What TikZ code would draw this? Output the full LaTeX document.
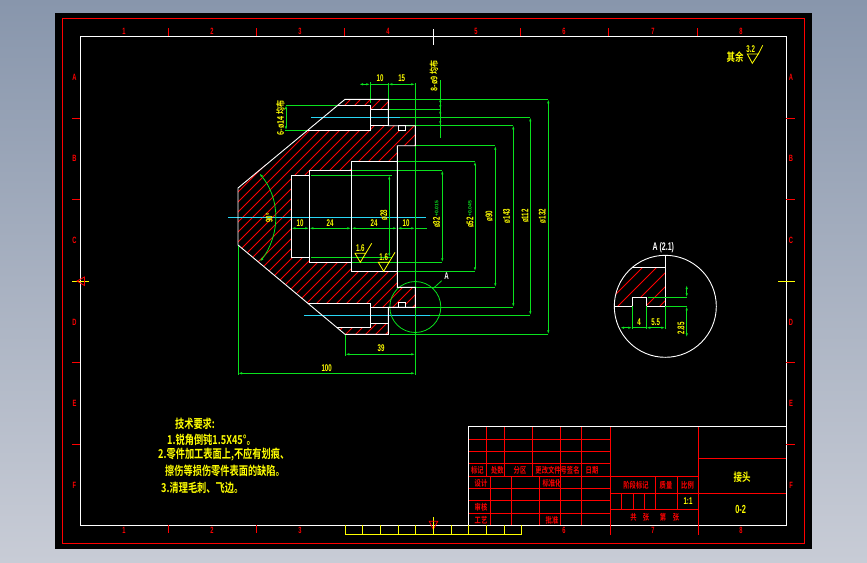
\documentclass[tikz,border=0pt]{standalone}
\usepackage{fontspec}
\usepackage{graphicx}
\usetikzlibrary{arrows.meta}
\setmainfont{Liberation Sans}
\newfontfamily\cjk{Noto Sans CJK SC}[BoldFont={Noto Sans CJK SC Bold}]
\newcommand{\dimtxt}[1]{\scalebox{.82}[1.3]{#1}}
\newcommand{\cadtxt}[1]{\scalebox{1}[1.33]{#1}}
\definecolor{cadgreen}{RGB}{10,225,30}
\definecolor{cadcyan}{RGB}{40,215,245}
\definecolor{cadred}{RGB}{255,0,0}
\definecolor{cadyellow}{RGB}{255,255,0}
\definecolor{skytop}{RGB}{136,150,172}
\definecolor{skybot}{RGB}{200,204,214}
\tikzset{
  whiteline/.style={white,line width=0.9pt},
  frameline/.style={red,line width=1.1pt},
  cellline/.style={cadred,line width=0.8pt},
  hatchline/.style={cadred,line width=0.9pt},
  dimline/.style={cadgreen,line width=0.8pt},
  dimarrow/.style={dimline,{Latex[length=4pt,width=2.4pt]}-{Latex[length=4pt,width=2.4pt]}},
  centerline/.style={cadcyan,line width=0.7pt},
  yline/.style={cadyellow,line width=0.8pt},
  ytext/.style={cadyellow,font=\cjk\fontsize{#1}{#1}\selectfont\bfseries,inner sep=0pt},
  ytext/.default=8,
  ylab/.style={cadyellow,font=\fontsize{7.5}{7.5}\selectfont\bfseries,inner sep=0pt},
  gtol/.style={cadgreen,font=\fontsize{5}{5}\selectfont\bfseries,inner sep=0pt},
  rlab/.style={cadred,font=\cjk\fontsize{6.3}{6.3}\selectfont\bfseries,inner sep=0pt},
  zonelab/.style={cadred,font=\fontsize{7}{7}\selectfont\bfseries,inner sep=0pt},
}
\begin{document}
\begin{tikzpicture}[x=1pt,y=-1pt,line join=miter]
\useasboundingbox (0,0) rectangle (867,562);
\shade[top color=skytop,bottom color=skybot] (0,0) rectangle (867,562);
\fill[black] (55,13) rectangle (812,549);
% sheet frames
\draw[frameline] (62.3,18.3) rectangle (804.3,543.3);
\draw[whiteline] (80.3,36.3) rectangle (786.3,525);
% zone ticks and labels
\foreach \x in {168,256,344,520,608,697}{
  \draw[cellline] (\x,28) -- (\x,36.3);
}
\foreach \x in {168,256}{
  \draw[cellline] (\x,525) -- (\x,533);
}
\foreach \y in {118,199,362,444}{
  \draw[cellline] (72,\y) -- (80.3,\y);
  \draw[cellline] (786.3,\y) -- (795,\y);
}
\foreach \x/\t in {124/1,212/2,300/3,388/4,476/5,564/6,653/7,741/8}{
  \node[zonelab] (top\t) at (\x,31.5) {\dimtxt{\t}};
}
\foreach \x/\t in {124/1,212/2,300/3,564/6,653/7,741/8}{
  \node[zonelab] (bot\t) at (\x,530.5) {\dimtxt{\t}};
}
\foreach \y/\t in {77/A,158/B,240/C,322/D,403/E,485/F}{
  \node[zonelab] (lft\t) at (74.5,\y) {\dimtxt{\t}};
  \node[zonelab] (rgt\t) at (791,\y) {\dimtxt{\t}};
}
% centring marks
\draw[white,line width=0.8pt] (433.3,29) -- (433.3,45);
\draw[yline] (72,281) -- (89,281);
\draw[yline] (778,281) -- (795,281);
\draw[cellline] (77,281) -- (84.5,277) -- (84.5,285.5) -- cycle;
\draw[yline] (433.3,517) -- (433.3,531);
\draw[cellline] (429.3,521.3) -- (437.7,521.3) -- (433.3,529.3) -- cycle;
% yellow scale under the frame
\draw[yline] (345.3,525) -- (345.3,534.7) -- (521.7,534.7) -- (521.7,525);
\foreach \x in {362.3,380.3,398.3,415.3,433.3,451.3,468.3,486.3,504.3}{
  \draw[yline] (\x,525) -- (\x,534.7);
}
% hatching main view
\begin{scope}
\clip (238,188) -- (307,130.3) -- (370.3,130.3) -- (370.3,125.7) -- (398,125.7) -- (398,130.3) -- (405.7,130.3) -- (405.7,125.7) -- (415.3,125.7) -- (415.3,145.7) -- (397.3,145.7) -- (397.3,161.3) -- (351.3,161.3) -- (351.3,170.3) -- (309.3,170.3) -- (309.3,175.3) -- (291.3,175.3) -- (291.3,257.3) -- (309.3,257.3) -- (309.3,262.3) -- (351.3,262.3) -- (351.3,271.3) -- (397.3,271.3) -- (397.3,287.3) -- (415.3,287.3) -- (415.3,307.3) -- (405.7,307.3) -- (405.7,302.3) -- (398,302.3) -- (398,307.3) -- (370.3,307.3) -- (370.3,303.3) -- (308,303.3) -- (238,245) -- cycle
 (345,99.3) -- (388.3,99.3) -- (388.3,109.3) -- (370.3,109.3) -- (370.3,105) -- (338,105) -- cycle
 (337,327.3) -- (370.3,327.3) -- (370.3,323.3) -- (388.3,323.3) -- (388.3,334.3) -- (345,334.3) -- cycle;
\foreach \k in {-200,-190,...,200}{
  \draw[hatchline] (230+\k,350) -- (230+\k+300,50);
}
\end{scope}
% centre lines
\draw[centerline] (228,217.3) -- (426,217.3);
\draw[centerline] (311,117.3) -- (400,117.3);
\draw[centerline] (304,315.3) -- (430,315.3);
% dimension extension lines, main view
\draw[dimline] (370.3,82) -- (370.3,103);
\draw[dimline] (388.3,83) -- (388.3,99);
\draw[dimline] (415.3,83) -- (415.3,125);
\draw[dimline] (415.3,146) -- (415.3,287);
\draw[dimline] (415.3,307) -- (415.3,375);
\draw[dimline] (286,105) -- (338,105);
\draw[dimline] (285,130.3) -- (307,130.3);
\draw[dimline] (388.3,99.3) -- (548.3,99.3);
\draw[dimline] (388.3,109.3) -- (440.3,109.3);
\draw[dimline] (400,117.3) -- (530.3,117.3);
\draw[dimline] (405.7,125.3) -- (513.3,125.3);
\draw[dimline] (416,145.7) -- (495.3,145.7);
\draw[dimline] (398,161.3) -- (475,161.3);
\draw[dimline] (351.3,170.3) -- (442.3,170.3);
\draw[dimline] (311,175.3) -- (391.5,175.3);
\draw[dimline] (311,257.3) -- (391.5,257.3);
\draw[dimline] (352,262.3) -- (442.3,262.3);
\draw[dimline] (398,271.3) -- (475,271.3);
\draw[dimline] (416,287.3) -- (495.3,287.3);
\draw[dimline] (406,307.3) -- (513.3,307.3);
\draw[dimline] (430,315.3) -- (530.3,315.3);
\draw[dimline] (390,334.3) -- (548.3,334.3);
\draw[dimline] (238,245) -- (238,375);
\draw[dimline] (345.3,334.3) -- (345.3,356);
% dimensions
\draw[dimarrow] (359,84.3) -- (370.3,84.3);
\draw[dimline] (370.3,84.3) -- (388.3,84.3);
\draw[dimarrow] (388.3,84.3) -- (415.3,84.3);
\draw[dimarrow] (286,105) -- (286,130.3);
\draw[dimline] (440.3,80) -- (440.3,137.5);
\draw[dimarrow] (440.3,98) -- (440.3,109.3);
\draw[dimarrow] (440.3,109.3) -- (440.3,125.3);
\draw[dimarrow] (548.3,99.3) -- (548.3,334.3);
\draw[dimarrow] (530.3,117.3) -- (530.3,315.3);
\draw[dimarrow] (513.3,125.3) -- (513.3,307.3);
\draw[dimarrow] (495.3,145.7) -- (495.3,287.3);
\draw[dimarrow] (475,161.3) -- (475,271.3);
\draw[dimarrow] (442.3,170.3) -- (442.3,262.3);
\draw[dimarrow] (389.3,175.3) -- (389.3,257.3);
\draw[dimarrow] (291.3,228.3) -- (309.3,228.3);
\draw[dimarrow] (309.3,228.3) -- (351.3,228.3);
\draw[dimarrow] (351.3,228.3) -- (397.3,228.3);
\draw[dimarrow] (397.3,228.3) -- (415.3,228.3);
\draw[dimline] (415.3,228.3) -- (427,228.3);
\draw[dimarrow] (345.3,354.3) -- (415.3,354.3);
\draw[dimarrow] (238,373.3) -- (415.3,373.3);
\draw[dimline,{Latex[length=4pt,width=2.4pt]}-{Latex[length=4pt,width=2.4pt]}] (259.3,173.3) .. controls (270,186) and (276,201) .. (275.8,217) .. controls (276,233) and (270,249) .. (260,261.7);
% circle A
\draw[dimline] (415.3,307) circle (25.5);
\draw[dimline] (433.3,288.3) -- (441.7,280.7);
\node[white,font=\fontsize{7.5}{7.5}\selectfont\bfseries,inner sep=0pt] (labA) at (446.7,275.7) {\dimtxt{A}};
% part outline
\draw[whiteline] (238,245) -- (238,188) -- (345,99.3) -- (388.3,99.3) -- (388.3,125.7) -- (415.3,125.7) -- (415.3,145.7) -- (397.3,145.7) -- (397.3,287.3) -- (415.3,287.3) -- (415.3,307.3) -- (388.3,307.3) -- (388.3,334.3) -- (345,334.3) -- cycle;
\draw[whiteline] (338,105) -- (370.3,105) -- (370.3,130.3) -- (307,130.3);
\draw[whiteline] (370.3,109.3) -- (388.3,109.3);
\draw[whiteline] (370.3,125.7) -- (388.3,125.7);
\draw[whiteline] (398,125.7) rectangle (405.7,130.3);
\draw[whiteline] (398,307.3) rectangle (405.7,302.3);
\draw[whiteline] (308,303.3) -- (370.3,303.3) -- (370.3,327.3) -- (337,327.3);
\draw[whiteline] (370.3,307.3) -- (388.3,307.3);
\draw[whiteline] (370.3,323.3) -- (388.3,323.3);
\draw[whiteline] (397.3,161.3) -- (351.3,161.3) -- (351.3,271.3) -- (397.3,271.3);
\draw[whiteline] (351.3,170.3) -- (309.3,170.3) -- (309.3,262.3) -- (351.3,262.3);
\draw[whiteline] (309.3,175.3) -- (291.3,175.3) -- (291.3,257.3) -- (309.3,257.3);
% roughness marks
\draw[yline] (355,253.3) -- (365.7,253.3) -- (360.3,262.3) -- cycle;
\draw[yline] (365.7,253.3) -- (371.7,243.3);
\draw[yline] (378.3,262.3) -- (389,262.3) -- (383.7,271.3) -- cycle;
\draw[yline] (389,262.3) -- (395,252.3);
\node[ylab] (ra1) at (360.3,248.5) {\dimtxt{1.6}};
\node[ylab] (ra2) at (383.7,257.3) {\dimtxt{1.6}};
\draw[yline] (747.3,54) -- (758.3,54) -- (752.3,63.3) -- cycle;
\draw[yline] (758.3,54) -- (762.7,45.3);
\node[ylab] (ra3) at (750.7,49.5) {\dimtxt{3.2}};
\node[ytext=8.5] (qiyu) at (735,56.7) {\cadtxt{其余}};
% dimension labels
\node[ylab] (d10a) at (380,77.7) {\dimtxt{10}};
\node[ylab] (d15a) at (401.7,77.7) {\dimtxt{15}};
\node[ylab,rotate=90,font=\cjk\fontsize{7}{7}\selectfont\bfseries] (holea) at (280.5,118) {\scalebox{1}[1.3]{6-ø14 均布}};
\node[ylab,rotate=90,font=\cjk\fontsize{7}{7}\selectfont\bfseries] (holeb) at (434,76) {\scalebox{1}[1.3]{8-ø9 均布}};
\node[ylab,rotate=90] (d28) at (383.8,215) {\dimtxt{ø28}};
\node[ylab,rotate=90] (dang) at (269.3,218) {\dimtxt{90°}};
\node[ylab] (d10b) at (300,222.7) {\dimtxt{10}};
\node[ylab] (d24a) at (330,222.7) {\dimtxt{24}};
\node[ylab] (d24b) at (374,222.7) {\dimtxt{24}};
\node[ylab] (d10c) at (406,222.7) {\dimtxt{10}};
\node[ylab,rotate=90] (d32) at (436.7,222.5) {\dimtxt{ø32}};
\node[gtol,rotate=90] (t32) at (436.7,208.5) {+0.015};
\node[ylab,rotate=90] (d52) at (470,222.5) {\dimtxt{ø52}};
\node[gtol,rotate=90] (t52) at (470,208.5) {+0.045};
\node[ylab,rotate=90] (d90) at (489,216) {\dimtxt{ø90}};
\node[ylab,rotate=90] (d143) at (506.7,216) {\dimtxt{ø143}};
\node[ylab,rotate=90] (d112) at (525,216) {\dimtxt{ø112}};
\node[ylab,rotate=90] (d132) at (542.3,216) {\dimtxt{ø132}};
\node[ylab] (d39) at (381,348.3) {\dimtxt{39}};
\node[ylab] (d100) at (326.7,367.7) {\dimtxt{100}};
% detail view A
\begin{scope}
\clip (665.3,306.3) circle (51);
\clip (632.3,267.3) -- (665.3,267.3) -- (665.3,306.3) -- (646.3,306.3) -- (646.3,297.3) -- (632.3,297.3) -- (632.3,306.3) -- (610,306.3) -- (610,295) -- cycle;
\foreach \k in {0,14,...,70}{
  \draw[hatchline] (590+\k,320) -- (590+\k+65,255);
}
\end{scope}
\draw[whiteline] (665.3,306.3) circle (51);
\draw[whiteline] (665.3,255.3) -- (665.3,306.3) -- (646.3,306.3) -- (646.3,297.3) -- (632.3,297.3) -- (632.3,306.3) -- (614.3,306.3);
\draw[whiteline] (632.3,267.3) -- (665.3,267.3);
\draw[dimline] (632.3,306.3) -- (632.3,329);
\draw[dimline] (646.3,306.3) -- (646.3,328.5);
\draw[dimline] (665.3,306.3) -- (665.3,328.5);
\draw[dimline] (647.7,297.3) -- (687.3,297.3);
\draw[dimline] (665.3,306.3) -- (687.3,306.3);
\draw[dimarrow] (620,327.7) -- (632.3,327.7);
\draw[dimarrow] (646.3,327.7) -- (665.3,327.7);
\draw[dimline] (632.3,327.7) -- (646.3,327.7);
\draw[dimarrow] (686.7,285) -- (686.7,297.3);
\draw[dimarrow] (686.7,337.3) -- (686.7,306.3);
\node[white,font=\fontsize{8.5}{8.5}\selectfont\bfseries,inner sep=0pt] (titA) at (663.3,247.3) {\dimtxt{A (2.1)}};
\node[ylab] (d4) at (639,321.7) {\dimtxt{4}};
\node[ylab] (d55) at (655.7,321.7) {\dimtxt{5.5}};
\node[ylab,rotate=90] (d285) at (681,328.3) {\dimtxt{2.85}};
% technical notes
\node[ytext=9.2,anchor=center] (n0) at (195,424) {\cadtxt{技术要求:}};
\node[ytext=9.2,anchor=west] (n1) at (167,440) {\cadtxt{1.锐角倒钝1.5X45°。}};
\node[ytext=9.2,anchor=west] (n2) at (158,455) {\cadtxt{2.零件加工表面上,不应有划痕、}};
\node[ytext=9.2,anchor=west] (n3) at (165,471) {\cadtxt{擦伤等损伤零件表面的缺陷。}};
\node[ytext=9.2,anchor=west] (n4) at (161,488) {\cadtxt{3.清理毛刺、飞边。}};
% title block
\foreach \y in {439.3,451.3,463.3,476,488.3,500.7,513.3}{
  \draw[cellline] (468.3,\y) -- (610.3,\y);
}
\foreach \x in {486.3,504.3,532.3,560.3,581.3}{
  \draw[cellline] (\x,426.3) -- (\x,476);
}
\foreach \x in {490.3,511.3,539.3,560.3,581.3}{
  \draw[cellline] (\x,476) -- (\x,525);
}
\draw[cellline] (610.3,426.3) -- (610.3,535);
\draw[cellline] (698.3,426.3) -- (698.3,535);
\draw[cellline] (698.3,458.3) -- (786.3,458.3);
\draw[cellline] (610.3,493.3) -- (786.3,493.3);
\draw[cellline] (610.3,476) -- (698.3,476);
\draw[cellline] (610.3,509.3) -- (698.3,509.3);
\draw[cellline] (655.3,476) -- (655.3,509.3);
\draw[cellline] (677.3,476) -- (677.3,509.3);
\foreach \x in {621.3,633.3,644.3}{
  \draw[cellline] (\x,493.3) -- (\x,509.3);
}
\draw[whiteline] (468.3,525) -- (468.3,426.3) -- (786.3,426.3);
\node[rlab] (t1) at (477.3,470.3) {\cadtxt{标记}};
\node[rlab] (t2) at (497.3,470.3) {\cadtxt{处数}};
\node[rlab] (t3) at (520,470.3) {\cadtxt{分区}};
\node[rlab] (t4) at (557.5,470.3) {\cadtxt{更改文件号签名}};
\node[rlab] (t5) at (592,470.3) {\cadtxt{日期}};
\node[rlab] (t6) at (481,483) {\cadtxt{设计}};
\node[rlab] (t7) at (552,483) {\cadtxt{标准化}};
\node[rlab] (t8) at (481,507.5) {\cadtxt{审核}};
\node[rlab] (t9) at (481,520) {\cadtxt{工艺}};
\node[rlab] (t10) at (552,520) {\cadtxt{批准}};
\node[rlab] (t11) at (636,485) {\cadtxt{阶段标记}};
\node[rlab] (t12) at (666,485) {\cadtxt{质量}};
\node[rlab] (t13) at (687.5,485) {\cadtxt{比例}};
\node[rlab] (t14) at (633.5,517.7) {\cadtxt{共}};
\node[rlab] (t15) at (646,517.7) {\cadtxt{张}};
\node[rlab] (t16) at (663,517.7) {\cadtxt{第}};
\node[rlab] (t17) at (676,517.7) {\cadtxt{张}};
\node[ylab] (scale) at (688,501.5) {\dimtxt{1:1}};
\node[ytext=8.5] (name) at (742,477) {\cadtxt{接头}};
\node[ylab,font=\fontsize{9}{9}\selectfont\bfseries] (code) at (740.7,509.3) {\dimtxt{0-2}};
\end{tikzpicture}
\end{document}
